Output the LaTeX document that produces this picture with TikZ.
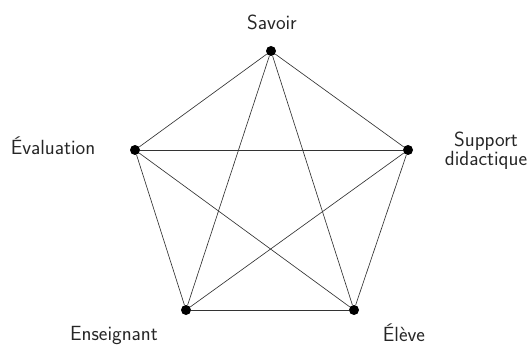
\documentclass[tikz,border=0pt]{standalone}
\usepackage{tikz}
\usetikzlibrary{positioning}
\definecolor{edgegray}{HTML}{333333}
\tikzset{
  ptnode/.style={circle,fill=black,inner sep=0pt,minimum size=10pt},
  lblnode/.style={font=\sffamily\fontsize{20.5}{22}\selectfont,inner sep=0pt,text=black!85},
  kedge/.style={edgegray,line width=0.65pt},
}
\begin{document}
\begin{tikzpicture}[x=1pt,y=-1pt]
  \useasboundingbox (0,0) rectangle (531,345);
  \node[ptnode] (nSav) at (271,51) {};
  \node[ptnode] (nEva) at (135,150) {};
  \node[ptnode] (nSup) at (408,150) {};
  \node[ptnode] (nEns) at (186,310) {};
  \node[ptnode] (nEle) at (354,310) {};
  \node[lblnode] (tSav) at (272,22) {Savoir};
  \node[lblnode] (tEva) at (53,146) {Évaluation};
  \node[lblnode,align=center] (tSup) at (486,151) {Support\\[-3pt]didactique};
  \node[lblnode] (tEns) at (114,335) {Enseignant};
  \node[lblnode] (tEle) at (404,333) {Élève};
  \foreach \a/\b in {nSav/nEva,nSav/nSup,nSav/nEns,nSav/nEle,nEva/nSup,nEva/nEns,nEva/nEle,nSup/nEns,nSup/nEle,nEns/nEle}
    \draw[kedge] (\a) -- (\b);
\end{tikzpicture}
\end{document}
